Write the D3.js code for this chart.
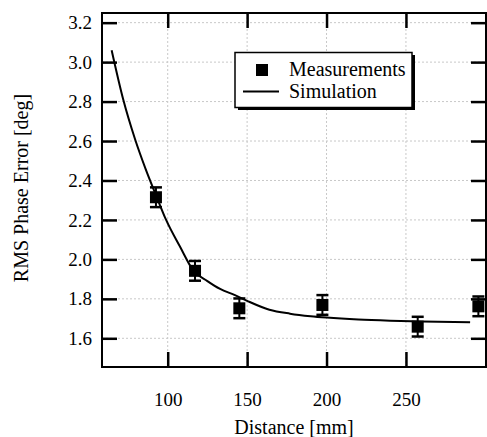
<!DOCTYPE html>
<html>
<head>
<meta charset="utf-8">
<title>RMS phase error vs distance</title>
<script src="https://d3js.org/d3.v7.min.js"></script>
<style>
body{margin:0;background:#fff;}
.grid line{stroke:#c8c8c8;stroke-width:1;stroke-dasharray:2,2;}
</style>
</head>
<body>
<svg class="chart" width="487" height="437"></svg>
<script>
// measured points (distance in mm, rms error in deg, error bar half-width)
var measDist=[92.6,117.2,145.1,197.4,257.4,295.6];
var measErr=[2.315,1.942,1.752,1.769,1.659,1.762];
var measBar=[0.05,0.05,0.05,0.05,0.05,0.05];

// simulation curve
var simDist=[64.7,72,79.4,86,93,99,107.7,116,125,133,142,150,164,177,190,200,220,240,260,290.4];
var simErr=[3.06,2.81,2.61,2.46,2.318,2.2,2.065,1.945,1.89,1.85,1.82,1.79,1.745,1.725,1.712,1.705,1.695,1.689,1.685,1.681];

var xTicks=[100,150,200,250];
var yTicks=[1.6,1.8,2.0,2.2,2.4,2.6,2.8,3.0,3.2];

var serif="'Liberation Serif','Times New Roman','DejaVu Serif',serif";
var pLeft=102,pRight=486,pTop=13,pBottom=367;
var x=d3.scaleLinear().domain([58.63,300.4]).range([pLeft,pRight]);
var y=d3.scaleLinear().domain([1.4545,3.249]).range([pBottom,pTop]);

var chart=d3.select(".chart");

// dotted grid
var grid=chart.append("g").attr("class","grid");
grid.selectAll("line.gx").data(xTicks).enter().append("line")
	.attr("class","gx")
	.attr("x1",function(d){return x(d);}).attr("x2",function(d){return x(d);})
	.attr("y1",pTop).attr("y2",pBottom);
grid.selectAll("line.gy").data(yTicks).enter().append("line")
	.attr("class","gy")
	.attr("x1",pLeft).attr("x2",pRight)
	.attr("y1",function(d){return y(d);}).attr("y2",function(d){return y(d);});

// axes with inward ticks on all four sides
var tl=15;
function styleAxis(g){
	g.select(".domain").remove();
	g.attr("font-family",serif);
	g.selectAll(".tick line").attr("stroke","#000").attr("stroke-width",2.5);
	g.selectAll(".tick text").style("font-family",serif).style("font-size","19px").attr("fill","#000");
}
chart.append("g").attr("transform","translate(0,"+pBottom+")")
	.call(d3.axisBottom(x).tickValues(xTicks).tickSizeInner(-tl).tickPadding(26).tickFormat(d3.format("d")))
	.call(styleAxis);
chart.append("g").attr("transform","translate(0,"+pTop+")")
	.call(d3.axisTop(x).tickValues(xTicks).tickSizeInner(-tl).tickFormat(""))
	.call(styleAxis);
chart.append("g").attr("transform","translate("+pLeft+",0)")
	.call(d3.axisLeft(y).tickValues(yTicks).tickSizeInner(-tl).tickPadding(10).tickFormat(d3.format(".1f")))
	.call(styleAxis);
chart.append("g").attr("transform","translate("+pRight+",0)")
	.call(d3.axisRight(y).tickValues(yTicks).tickSizeInner(-tl).tickFormat(""))
	.call(styleAxis);

// frame
chart.append("rect").attr("x",pLeft).attr("y",pTop)
	.attr("width",pRight-pLeft).attr("height",pBottom-pTop)
	.attr("fill","none").attr("stroke","#000").attr("stroke-width",2);

// simulation
var simData=simDist.map(function(d,i){return [d,simErr[i]];});
var line=d3.line().x(function(d){return x(d[0]);}).y(function(d){return y(d[1]);}).curve(d3.curveMonotoneX);
chart.append("path").datum(simData)
	.attr("d",line).attr("fill","none").attr("stroke","#000").attr("stroke-width",2);

// measurements with error bars
var meas=measDist.map(function(d,i){return {x:d,y:measErr[i],e:measBar[i]};});
var pts=chart.append("g").selectAll("g").data(meas).enter().append("g");
pts.append("line")
	.attr("x1",function(d){return x(d.x);}).attr("x2",function(d){return x(d.x);})
	.attr("y1",function(d){return y(d.y+d.e);}).attr("y2",function(d){return y(d.y-d.e);})
	.attr("stroke","#000").attr("stroke-width",2);
[1,-1].forEach(function(s){
	pts.append("line")
		.attr("x1",function(d){return x(d.x)-6;}).attr("x2",function(d){return x(d.x)+6;})
		.attr("y1",function(d){return y(d.y+s*d.e);}).attr("y2",function(d){return y(d.y+s*d.e);})
		.attr("stroke","#000").attr("stroke-width",2.5);
});
pts.append("rect")
	.attr("x",function(d){return x(d.x)-6;}).attr("y",function(d){return y(d.y)-6;})
	.attr("width",12).attr("height",12).attr("fill","#000");

// legend with drop shadow
var lg=chart.append("g");
lg.append("rect").attr("x",238).attr("y",55).attr("width",177).attr("height",55).attr("fill","#000");
lg.append("rect").attr("x",235).attr("y",52.5).attr("width",177).attr("height",55)
	.attr("fill","#fff").attr("stroke","#000").attr("stroke-width",1.5);
lg.append("rect").attr("x",256).attr("y",64).attr("width",12).attr("height",12).attr("fill","#000");
lg.append("text").attr("x",289).attr("y",76).style("font-family",serif).style("font-size","20px").text("Measurements");
lg.append("line").attr("x1",243).attr("x2",279).attr("y1",91.5).attr("y2",91.5)
	.attr("stroke","#000").attr("stroke-width",2);
lg.append("text").attr("x",289).attr("y",97.5).style("font-family",serif).style("font-size","20px").text("Simulation");

// axis titles
chart.append("text").attr("x",(pLeft+pRight)/2).attr("y",434)
	.attr("text-anchor","middle").style("font-family",serif).style("font-size","20px").text("Distance [mm]");
chart.append("text").attr("transform","translate(28,188) rotate(-90)")
	.attr("text-anchor","middle").style("font-family",serif).style("font-size","20px").text("RMS Phase Error [deg]");
</script>
</body>
</html>
